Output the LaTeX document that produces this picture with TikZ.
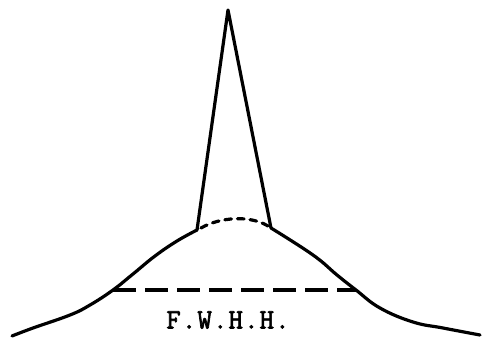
\documentclass[tikz,border=0pt]{standalone}
\usepackage{fontspec}
\newfontfamily\typefont{Latin Modern Mono}[FakeBold=2.5,LetterSpace=4]
\usepackage{tikz}
\usetikzlibrary{positioning}

\tikzset{
  curve/.style={line width=2.4pt,line join=round,line cap=round},
  halfmax/.style={line width=2.6pt,dash pattern=on 17pt off 7pt},
  hidden/.style={line width=2.4pt,dash pattern=on 5pt off 4.5pt,line cap=round},
  fwhhlabel/.style={font=\typefont\fontsize{21}{21}\selectfont,inner sep=0pt}
}

\begin{document}
\begin{tikzpicture}[x=0.75pt,y=-0.75pt]
\useasboundingbox (0,0) rectangle (482,354);
\coordinate (leftbase) at (197,230);
\coordinate (rightbase) at (271,228);
\coordinate (apex) at (228,10);
\coordinate (leftwing) at (113,290);
\coordinate (rightwing) at (356,290);
% broad line
\draw[curve] plot[smooth,tension=0.7] coordinates {(12,336) (33,328) (70,315) (90,305) (113,290) (133,274) (155,256) (177,241) (197,230)};
\draw[curve] plot[smooth,tension=0.7] coordinates {(271,228) (313,255) (337,275) (356,290) (380,308) (413,322) (443,328) (480,335)};
% narrow line
\draw[curve] (leftbase) -- (apex) -- (rightbase);
\draw[hidden] (201,228) .. controls (220,217) and (250,215) .. (268,226);
\draw[halfmax] (leftwing) -- (rightwing);
\node[fwhhlabel] (fwhh) at (228,320) {F.W.H.H.};
\end{tikzpicture}
\end{document}
